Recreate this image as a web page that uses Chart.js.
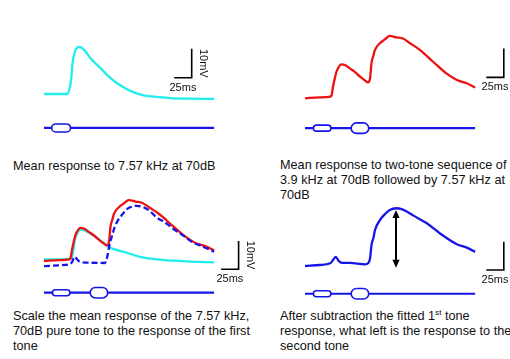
<!DOCTYPE html>
<html><head><meta charset="utf-8">
<script src="https://cdn.jsdelivr.net/npm/chart.js@4.4.1/dist/chart.umd.min.js"></script>
<style>
html,body{margin:0;padding:0;background:#fff;}
body{width:510px;height:359px;overflow:hidden;position:relative;font-family:"Liberation Sans",Arial,sans-serif;}
.pane{position:absolute;}
.cap{position:absolute;font-size:12.7px;line-height:15.2px;color:#111;white-space:nowrap;}
.cap sup{font-size:8px;line-height:0;vertical-align:5px;}
</style></head><body>
<div class="cap" style="left:13px;top:159px">Mean response to 7.57 kHz at 70dB</div>
<div class="cap" style="left:280px;top:158px">Mean response to two-tone sequence of<br>3.9 kHz at 70dB followed by 7.57 kHz at<br>70dB</div>
<div class="cap" style="left:13px;top:309px">Scale the mean response of the 7.57 kHz,<br>70dB pure tone to the response of the first<br>tone</div>
<div class="cap" style="left:280px;top:309px">After subtraction the fitted 1<sup>st</sup> tone<br>response, what left is the response to the<br>second tone</div>
<canvas id="c1" class="pane" width="255" height="150" style="left:0;top:0"></canvas>
<canvas id="c2" class="pane" width="255" height="150" style="left:255px;top:0"></canvas>
<canvas id="c3" class="pane" width="255" height="120" style="left:0;top:185px"></canvas>
<canvas id="c4" class="pane" width="255" height="120" style="left:255px;top:185px"></canvas>
<script>
// ---------- data (time in ms, membrane potential in mV relative to baseline) ----------
const pureToneTime = [0,23,33,36,39,41,44,47,51,56,60,66,73,80,90,101,113,124,137,149,161,180,209,243];
const pureToneMv   = [0,0,0,1.4,5.5,11.0,14.5,15.9,16.2,15.5,14.5,12.4,10.7,9.1,6.6,4.3,2.4,1.0,-0.1,-0.7,-1.0,-1.4,-1.6,-1.7];

const twoToneTime = [0,21,36,38,40,43,45,49,52,57,64,71,79,86,90,93,95,98,100,107,114,121,131,140,150,164,183,202,217,231,243];
const twoToneMv   = [0,0.3,0.55,1.1,4.0,7.3,9.2,11.1,11.7,11.5,10.3,9.1,7.4,6.1,5.5,7.0,12.1,14.9,16.7,19.0,20.3,21.5,21.0,20.6,19.0,16.7,12.6,8.6,6.3,5.2,3.7];

const fittedFirstTime = [0,23,37,40,42,44,47,50,54,66,80,92,101,113,137,161,185,209,243];
const fittedFirstMv   = [0.6,0.6,0.7,1.4,3.9,7.4,9.5,10.8,11.1,9.7,7.4,5.0,4.1,3.3,1.5,0.6,0.1,-0.25,-0.5];

const scaledDiffTime = [0,23,37,40,44,47,51,66,87,90,94,98,101,106,111,120,126,132,142,151,161,173,185,199,213,223,233,243];
const scaledDiffMv   = [-1.8,-1.5,-1.1,-0.4,1.5,0.7,-0.25,-0.6,-0.7,1.1,6.2,9.5,12.1,14.5,16.2,18.6,19.2,19.5,19.0,17.7,15.4,13.6,11.3,9.0,6.5,5.5,4.4,3.3];

const secondToneTime = [0,21,36,40,44,48,53,64,86,90,93,95,98,100,107,114,121,131,138,146,155,174,193,217,231,243];
const secondToneMv   = [0,0.35,0.95,2.1,3.2,1.8,1.1,1.1,0.6,0.95,2.8,7.4,10.2,12.7,16.2,18.3,19.8,20.4,20.1,19.2,17.8,15.1,11.5,7.7,6.5,5.0];

const stimDurationMs = 243;
const pureToneWindow = [11, 38];   // 7.57 kHz alone
const tone1Window = [12, 37];      // 3.9 kHz
const tone2Window = [66, 91];      // 7.57 kHz
const peakArrow = [130, -0.6, 19.8]; // time, from mV, to mV
const scaleBarMs = 25, scaleBarMv = 10;
const scaleBarLabels = ['25ms','10mV'];

// ---------- styling / layout ----------
const CYAN='#22eded', RED='#ee1111', BLUE='#1515e8', INK='#111';
const MS_PER_PX = 25/17.5;
const pts = (t,v)=>t.map((x,i)=>({x:x,y:v[i]}));

const panels = [
 {id:'c1',L:0,T:0,W:255,H:150,x0:44,yb:94,mvPerPx:10/29,stim:-11.7,bar:[211,5.6],
  tones:[[pureToneWindow,8]],
  traces:[{d:pts(pureToneTime,pureToneMv),c:CYAN,o:1}]},
 {id:'c2',L:255,T:0,W:255,H:150,x0:305,yb:98.3,mvPerPx:10/29,stim:-10.3,bar:[284,7.2],
  tones:[[tone1Window,6],[tone2Window,10.5]],
  traces:[{d:pts(twoToneTime,twoToneMv),c:RED,o:1}]},
 {id:'c3',L:0,T:185,W:255,H:120,x0:44,yb:261,mvPerPx:10/28.3,stim:-11.2,bar:[278,-2.9],
  tones:[[tone1Window,6],[tone2Window,10.5]],
  traces:[{d:pts(scaledDiffTime,scaledDiffMv),c:BLUE,o:0,dash:[6,3]},
          {d:pts(twoToneTime,twoToneMv),c:RED,o:1},
          {d:pts(fittedFirstTime,fittedFirstMv),c:CYAN,o:2}]},
 {id:'c4',L:255,T:185,W:255,H:120,x0:305,yb:266,mvPerPx:10/28.3,stim:-9.8,bar:[284,-1.4],
  tones:[[tone1Window,6],[tone2Window,10.5]],arrow:true,
  traces:[{d:pts(secondToneTime,secondToneMv),c:BLUE,o:1}]}
];

function pill(ctx,x1,x2,y,h){
  const r=h/2;
  ctx.beginPath();
  ctx.moveTo(x1+r,y-r); ctx.lineTo(x2-r,y-r);
  ctx.arc(x2-r,y,r,-Math.PI/2,Math.PI/2);
  ctx.lineTo(x1+r,y+r);
  ctx.arc(x1+r,y,r,Math.PI/2,3*Math.PI/2);
  ctx.closePath();
  ctx.fillStyle='#fff'; ctx.fill();
  ctx.strokeStyle=BLUE; ctx.lineWidth=1.6; ctx.stroke();
}

function makeChart(p){
  const xmin=(p.L-p.x0)*MS_PER_PX, xmax=(p.L+p.W-p.x0)*MS_PER_PX;
  const ymax=(p.yb-p.T)*p.mvPerPx, ymin=(p.yb-p.T-p.H)*p.mvPerPx;
  const ds = p.traces.map(tr=>({data:tr.d,borderColor:tr.c,borderWidth:2.3,borderDash:tr.dash||[],
      cubicInterpolationMode:'monotone',pointRadius:0,fill:false,order:tr.o}));
  ds.push({data:[{x:0,y:p.stim},{x:stimDurationMs,y:p.stim}],borderColor:BLUE,borderWidth:2.2,pointRadius:0,order:5});
  const [bt,bv]=p.bar;
  ds.push({data:[{x:bt-scaleBarMs,y:bv},{x:bt,y:bv},{x:bt,y:bv+scaleBarMv}],borderColor:'#000',borderWidth:1.6,
      pointRadius:0,tension:0,order:5,borderCapStyle:'butt',borderJoinStyle:'miter'});
  const decor={id:'decor',afterDatasetsDraw(chart){
    const ctx=chart.ctx, xs=chart.scales.x, ys=chart.scales.y;
    ctx.save();
    const sy=ys.getPixelForValue(p.stim);
    p.tones.forEach(([w,h])=>pill(ctx,xs.getPixelForValue(w[0]),xs.getPixelForValue(w[1]),sy,h));
    // scale bar labels
    ctx.fillStyle=INK; ctx.font='11px "Liberation Sans", Arial, sans-serif';
    ctx.textAlign='center'; ctx.textBaseline='middle';
    const bx=xs.getPixelForValue(bt), by=ys.getPixelForValue(bv);
    ctx.fillText(scaleBarLabels[0],xs.getPixelForValue(bt-scaleBarMs/2),by+10);
    ctx.save();
    ctx.translate(bx+11,ys.getPixelForValue(bv+scaleBarMv/2));
    ctx.rotate(Math.PI/2);
    ctx.fillText(scaleBarLabels[1],0,0);
    ctx.restore();
    if(p.arrow){
      const ax=xs.getPixelForValue(peakArrow[0]);
      const yb=ys.getPixelForValue(peakArrow[1]), yt=ys.getPixelForValue(peakArrow[2]);
      ctx.strokeStyle='#000'; ctx.fillStyle='#000'; ctx.lineWidth=2;
      ctx.beginPath(); ctx.moveTo(ax,yt+6); ctx.lineTo(ax,yb-6); ctx.stroke();
      ctx.beginPath(); ctx.moveTo(ax,yt); ctx.lineTo(ax-3.6,yt+8); ctx.lineTo(ax+3.6,yt+8); ctx.closePath(); ctx.fill();
      ctx.beginPath(); ctx.moveTo(ax,yb); ctx.lineTo(ax-3.6,yb-8); ctx.lineTo(ax+3.6,yb-8); ctx.closePath(); ctx.fill();
    }
    ctx.restore();
  }};
  return new Chart(document.getElementById(p.id),{
    type:'line',
    data:{datasets:ds},
    options:{responsive:false,animation:false,devicePixelRatio:1,
      layout:{padding:0},
      plugins:{legend:{display:false},tooltip:{enabled:false}},
      events:[],
      scales:{x:{type:'linear',display:false,min:xmin,max:xmax},
              y:{type:'linear',display:false,min:ymin,max:ymax}}},
    plugins:[decor]
  });
}
panels.forEach(makeChart);
</script>
</body></html>
